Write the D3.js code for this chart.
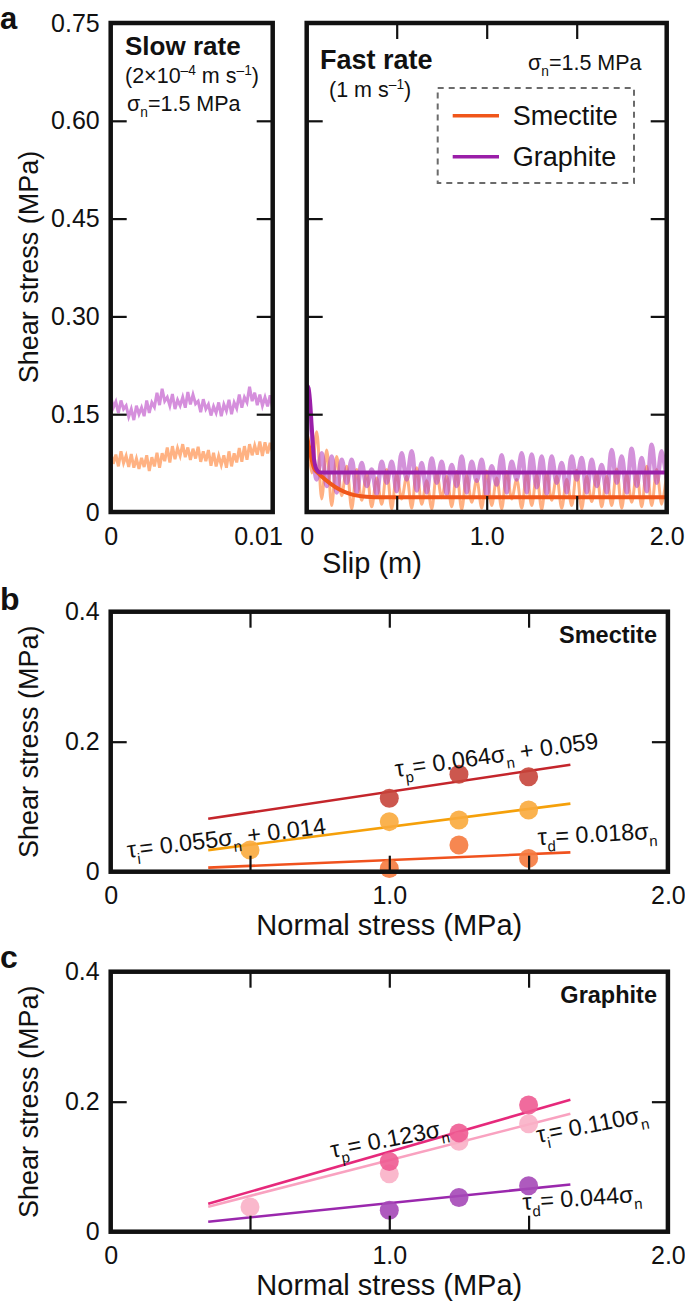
<!DOCTYPE html>
<html>
<head>
<meta charset="utf-8">
<script src="https://cdn.jsdelivr.net/npm/d3@7"></script>
<style>
body { margin: 0; background: #fff; }
svg text { font-family: "Liberation Sans", Arial, Helvetica, sans-serif; fill: #111; }
.lbl .tick text { font-size: 25px; }
</style>
</head>
<body>
<div id="fig"></div>
<script>
// ---------- data ----------
// panel a, slow rate: shear stress (MPa) sampled evenly over 0..slowSlipMax (m)
var slowSlipMax = 0.011;
var slowGraphite = [0.178,0.160,0.169,0.152, 0.171,0.158,0.163,0.146, 0.158,0.141,0.163,0.150,
  0.160,0.147,0.171,0.152, 0.168,0.161,0.183,0.164, 0.189,0.170,0.176,0.163,
  0.181,0.158,0.172,0.163, 0.176,0.160,0.184,0.165, 0.180,0.166,0.170,0.153,
  0.173,0.158,0.165,0.148, 0.162,0.152,0.168,0.147, 0.165,0.155,0.172,0.150,
  0.168,0.159,0.180,0.160, 0.176,0.168,0.192,0.170, 0.183,0.164,0.180,0.163,
  0.176,0.162,0.179,0.158];
var slowSmectite = [0.092,0.074,0.088,0.070, 0.093,0.075,0.086,0.069, 0.089,0.068,0.082,0.066,
  0.083,0.069,0.087,0.063, 0.084,0.070,0.091,0.068, 0.090,0.078,0.099,0.076,
  0.101,0.081,0.098,0.086, 0.104,0.084,0.099,0.080, 0.097,0.082,0.100,0.077,
  0.093,0.078,0.095,0.071, 0.091,0.070,0.086,0.072, 0.087,0.068,0.093,0.070,
  0.090,0.076,0.098,0.077, 0.101,0.080,0.104,0.087, 0.102,0.088,0.108,0.086,
  0.107,0.090,0.106,0.091];

// panel a, fast rate: raw records, one value every fastStep metres of slip
var fastStep = 2 / 72;
var fastGraphiteRaw = [0.19,0.12,0.05,0.09,0.04,0.085,0.03,0.08,0.045,0.08,
  0.03,0.075,0.04,0.065,0.028,0.077,0.045,0.077,0.032,0.09,
  0.05,0.093,0.033,0.075,0.03,0.082,0.045,0.077,0.028,0.072,
  0.04,0.085,0.03,0.077,0.048,0.08,0.025,0.07,0.042,0.087,
  0.03,0.077,0.05,0.09,0.03,0.088,0.038,0.085,0.028,0.085,
  0.045,0.075,0.03,0.085,0.05,0.083,0.03,0.08,0.04,0.072,
  0.03,0.095,0.045,0.085,0.03,0.097,0.04,0.083,0.032,0.103,
  0.045,0.093,0.05];
var fastSmectiteRaw = [0.13,0.06,0.123,0.02,0.095,0.01,0.085,0.025,0.07,0.005,
  0.065,0.018,0.06,0.008,0.052,0.012,0.065,0.005,0.058,0.02,
  0.055,0.006,0.068,0.012,0.048,0.005,0.06,0.022,0.055,0.008,
  0.062,0.004,0.056,0.015,0.05,0.006,0.063,0.01,0.052,0.005,
  0.062,0.02,0.05,0.006,0.06,0.01,0.057,0.004,0.06,0.018,
  0.055,0.006,0.05,0.01,0.064,0.005,0.055,0.016,0.06,0.008,
  0.055,0.01,0.066,0.006,0.058,0.015,0.06,0.008,0.07,0.01,
  0.065,0.012,0.06];
// fitted decay curves
var fastGraphiteFitSlip = [0, 0.01, 0.018, 0.029, 0.041, 0.056, 0.075, 2.0];
var fastGraphiteFit     = [0.195, 0.19, 0.172, 0.126, 0.08, 0.0645, 0.0604, 0.0604];
var fastSmectiteFitSlip = [0, 0.02, 0.04, 0.074, 0.13, 0.185, 0.24, 0.33, 0.43, 2.0];
var fastSmectiteFit     = [0.12, 0.09, 0.068, 0.057, 0.044, 0.034, 0.0277, 0.0235, 0.0226, 0.0226];

var yTicksA = [0, 0.15, 0.30, 0.45, 0.60, 0.75];
var yLabelsA = ["0", "0.15", "0.30", "0.45", "0.60", "0.75"];

// panels b and c: normal stress (MPa) vs shear stress (MPa)
var smecPeakN = [1.0, 1.25, 1.5],       smecPeak = [0.113, 0.150, 0.146];
var smecInterN = [0.5, 1.0, 1.25, 1.5], smecInter = [0.0334, 0.077, 0.0795, 0.095];
var smecDynN = [1.0, 1.25, 1.5],        smecDyn = [0.005, 0.041, 0.0205];
var grPeakN = [1.0, 1.25, 1.5],         grPeak = [0.108, 0.152, 0.195];
var grInterN = [0.5, 1.0, 1.25, 1.5],   grInter = [0.038, 0.089, 0.139, 0.166];
var grDynN = [1.0, 1.25, 1.5],          grDyn = [0.033, 0.0525, 0.0706];
// fit coefficients [slope, intercept] and the stress range they are drawn over
var smecFits = [[0.064, 0.059], [0.055, 0.014], [0.018, 0]];
var grFits = [[0.123, 0], [0.110, 0], [0.044, 0]];
var fitRange = [0.35, 1.65];

var yTicksBC = [0, 0.2, 0.4];
var yLabelsBC = ["0", "0.2", "0.4"];
var xTicksBC = [0, 1, 2];
var xLabelsBC = ["0", "1.0", "2.0"];

// ---------- drawing ----------
var svg = d3.select("#fig").append("svg")
    .attr("width", 685).attr("height", 1304);
svg.append("rect").attr("width", 685).attr("height", 1304).attr("fill", "#fff");

var ink = "#111";

function inwardTicks(g, x, y, xt, yt) {
    var x0 = x.range()[0], x1 = x.range()[1], y0 = y.range()[0], y1 = y.range()[1];
    var t = g.append("g");
    if (yt.length) {
        t.append("g").attr("transform", "translate(" + x0 + ",0)")
            .call(d3.axisLeft(y).tickValues(yt).tickSize(-16).tickFormat(""));
        t.append("g").attr("transform", "translate(" + x1 + ",0)")
            .call(d3.axisRight(y).tickValues(yt).tickSize(-16).tickFormat(""));
    }
    if (xt.length) {
        t.append("g").attr("transform", "translate(0," + y0 + ")")
            .call(d3.axisBottom(x).tickValues(xt).tickSize(-16).tickFormat(""));
        t.append("g").attr("transform", "translate(0," + y1 + ")")
            .call(d3.axisTop(x).tickValues(xt).tickSize(-16).tickFormat(""));
    }
    t.selectAll(".domain").remove();
    t.selectAll(".tick line").attr("stroke", ink).attr("stroke-width", 2.2);
}

function frame(g, x, y) {
    var x0 = x.range()[0], x1 = x.range()[1], y0 = y.range()[0], y1 = y.range()[1];
    g.append("rect").attr("x", x0).attr("y", y1)
        .attr("width", x1 - x0).attr("height", y0 - y1)
        .attr("fill", "none").attr("stroke", ink).attr("stroke-width", 4.5);
}

function leftLabels(g, x, y, vals, labels) {
    g.append("g").attr("class", "lbl")
        .attr("transform", "translate(" + x.range()[0] + ",0)")
        .call(d3.axisLeft(y).tickValues(vals).tickSize(0).tickPadding(11)
            .tickFormat(function(d, i) { return labels[i]; }))
        .select(".domain").remove();
}

function bottomLabels(g, x, y, vals, labels) {
    g.append("g").attr("class", "lbl")
        .attr("transform", "translate(0," + y.range()[0] + ")")
        .call(d3.axisBottom(x).tickValues(vals).tickSize(0).tickPadding(15)
            .tickFormat(function(d, i) { return labels[i]; }))
        .select(".domain").remove();
}

function clipTo(id, x, y) {
    svg.append("clipPath").attr("id", id).append("rect")
        .attr("x", x.range()[0]).attr("y", y.range()[1])
        .attr("width", x.range()[1] - x.range()[0])
        .attr("height", y.range()[0] - y.range()[1]);
}

// rich text: parts = [[text, "n"|"sub"|"sup"], ...]
function richText(g, px, py, parts, size, angle, weight) {
    var t = g.append("text")
        .attr("transform", "translate(" + px + "," + py + ") rotate(" + (angle || 0) + ")")
        .attr("font-size", size)
        .attr("font-weight", weight || "normal");
    var cur = 0;
    parts.forEach(function(p) {
        var shift = p[1] == "sub" ? size * 0.3 : (p[1] == "sup" ? -size * 0.38 : 0);
        t.append("tspan").attr("dy", shift - cur)
            .attr("font-size", p[1] == "n" ? size : size * 0.64)
            .text(p[0]);
        cur = shift;
    });
    return t;
}

function axisTitle(g, text, px, py, rot, size) {
    g.append("text").attr("transform", "translate(" + px + "," + py + ") rotate(" + rot + ")")
        .attr("text-anchor", "middle").attr("font-size", size).text(text);
}

// ===== panel a =====
var yA = d3.scaleLinear().domain([0, 0.75]).range([512, 23]);
var xSlow = d3.scaleLinear().domain([0, slowSlipMax]).range([110.7, 272.7]);
var xFast = d3.scaleLinear().domain([0, 2]).range([306.7, 666.7]);
var gA = svg.append("g");

clipTo("clipSlow", xSlow, yA);
clipTo("clipFast", xFast, yA);

var slowStep = slowSlipMax / (slowGraphite.length - 1);
var slowLine = d3.line()
    .x(function(d, i) { return xSlow(i * slowStep); })
    .y(function(d) { return yA(d); });
var gSlow = gA.append("g").attr("clip-path", "url(#clipSlow)");
gSlow.append("path").datum(slowSmectite).attr("d", slowLine)
    .attr("fill", "none").attr("stroke", "#ffb283").attr("stroke-width", 3);
gSlow.append("path").datum(slowGraphite).attr("d", slowLine)
    .attr("fill", "none").attr("stroke", "#d58fdc").attr("stroke-width", 3);

var rawLine = d3.line()
    .x(function(d, i) { return xFast(i * fastStep); })
    .y(function(d) { return yA(d); })
    .curve(d3.curveCatmullRom);
var fitLine = d3.line()
    .x(function(d) { return xFast(d[0]); })
    .y(function(d) { return yA(d[1]); })
    .curve(d3.curveMonotoneX);
var gFast = gA.append("g").attr("clip-path", "url(#clipFast)");
gFast.append("path").datum(fastSmectiteRaw).attr("d", rawLine)
    .attr("fill", "none").attr("stroke", "#ff9c63").attr("stroke-opacity", 0.8).attr("stroke-width", 3);
gFast.append("path").datum(fastGraphiteRaw).attr("d", rawLine)
    .attr("fill", "none").attr("stroke", "#b54ac2").attr("stroke-opacity", 0.6).attr("stroke-width", 4.5);
gFast.append("path").datum(d3.zip(fastSmectiteFitSlip, fastSmectiteFit)).attr("d", fitLine)
    .attr("fill", "none").attr("stroke", "#f0561a").attr("stroke-width", 4);
gFast.append("path").datum(d3.zip(fastGraphiteFitSlip, fastGraphiteFit)).attr("d", fitLine)
    .attr("fill", "none").attr("stroke", "#9a1ea8").attr("stroke-width", 4);

inwardTicks(gA, xSlow, yA, [], yTicksA.slice(1, 5));
inwardTicks(gA, xFast, yA, [0.5, 1, 1.5], yTicksA.slice(1, 5));
frame(gA, xSlow, yA);
frame(gA, xFast, yA);
leftLabels(gA, xSlow, yA, yTicksA, yLabelsA);
bottomLabels(gA, xSlow, yA, [0, 0.01], ["0", "0.01"]);
bottomLabels(gA, xFast, yA, [0, 1, 2], ["0", "1.0", "2.0"]);
axisTitle(gA, "Shear stress (MPa)", 38, 267, -90, 27);
gA.append("text").attr("x", 372).attr("y", 573).attr("text-anchor", "middle")
    .attr("font-size", 29).text("Slip (m)");
gA.append("text").attr("x", 0).attr("y", 28.5).attr("font-size", 31)
    .attr("font-weight", "bold").text("a");

// annotations
richText(gA, 125, 55, [["Slow rate", "n"]], 26, 0, "bold");
richText(gA, 125, 83, [["(2\u00d710", "n"], ["\u20134", "sup"], [" m s", "n"], ["\u20131", "sup"], [")", "n"]], 21.5);
richText(gA, 127, 111, [["\u03c3", "n"], ["n", "sub"], ["=1.5 MPa", "n"]], 21.5);
richText(gA, 320, 69, [["Fast rate", "n"]], 27, 0, "bold");
richText(gA, 329, 97, [["(1 m s", "n"], ["\u20131", "sup"], [")", "n"]], 21.5);
richText(gA, 528, 70, [["\u03c3", "n"], ["n", "sub"], ["=1.5 MPa", "n"]], 21.5);

// legend
var legNames = ["Smectite", "Graphite"];
var legColors = ["#f0561a", "#9a1ea8"];
var legY = [115.7, 156.7];
gA.append("rect").attr("x", 437.7).attr("y", 88).attr("width", 196.3).attr("height", 95)
    .attr("fill", "#fff").attr("stroke", "#6b6b6b").attr("stroke-width", 2)
    .attr("stroke-dasharray", "6,5");
legNames.forEach(function(n, i) {
    gA.append("line").attr("x1", 452.7).attr("x2", 499).attr("y1", legY[i]).attr("y2", legY[i])
        .attr("stroke", legColors[i]).attr("stroke-width", 3.5);
    gA.append("text").attr("x", 512.7).attr("y", legY[i] + 9.5).attr("font-size", 27).text(n);
});

// ===== panels b and c =====
function scatterPanel(y0, yTop, title, letter, letterY, fits, fitColors, sets, eqs) {
    var x = d3.scaleLinear().domain([0, 2]).range([110.7, 667.9]);
    var y = d3.scaleLinear().domain([0, 0.4]).range([y0, yTop]);
    var g = svg.append("g");
    fits.forEach(function(f, i) {
        g.append("line")
            .attr("x1", x(fitRange[0])).attr("y1", y(f[0] * fitRange[0] + f[1]))
            .attr("x2", x(fitRange[1])).attr("y2", y(f[0] * fitRange[1] + f[1]))
            .attr("stroke", fitColors[i]).attr("stroke-width", 2.6);
    });
    sets.forEach(function(s) {
        g.selectAll(null).data(d3.zip(s.n, s.v)).enter().append("circle")
            .attr("cx", function(d) { return x(d[0]); })
            .attr("cy", function(d) { return y(d[1]); })
            .attr("r", 9.5).attr("fill", s.color).attr("fill-opacity", 0.9);
    });
    inwardTicks(g, x, y, [0.5, 1, 1.5], [0.2]);
    frame(g, x, y);
    leftLabels(g, x, y, yTicksBC, yLabelsBC);
    bottomLabels(g, x, y, xTicksBC, xLabelsBC);
    axisTitle(g, "Shear stress (MPa)", 38, (y0 + yTop) / 2, -90, 27);
    g.append("text").attr("x", 389.3).attr("y", y0 + 63).attr("text-anchor", "middle")
        .attr("font-size", 29).text("Normal stress (MPa)");
    g.append("text").attr("x", 657).attr("y", yTop + 31).attr("text-anchor", "end")
        .attr("font-size", 23.5).attr("font-weight", "bold").text(title);
    g.append("text").attr("x", 0).attr("y", letterY).attr("font-size", 32)
        .attr("font-weight", "bold").text(letter);
    eqs.forEach(function(e) { richText(g, e.x, e.y, e.parts, 23.5, e.rot); });
}

scatterPanel(871.7, 611.7, "Smectite", "b", 610, smecFits, ["#c4252b", "#f5a00a", "#f0521e"], [
    { n: smecPeakN, v: smecPeak, color: "#c6453b" },
    { n: smecInterN, v: smecInter, color: "#f9aa3c" },
    { n: smecDynN, v: smecDyn, color: "#f57a3e" }
], [
    { x: 396, y: 777, rot: -8, parts: [["\u03c4", "n"], ["p", "sub"], ["= 0.064\u03c3", "n"], ["n", "sub"], [" + 0.059", "n"]] },
    { x: 128, y: 858, rot: -7, parts: [["\u03c4", "n"], ["i", "sub"], ["= 0.055\u03c3", "n"], ["n", "sub"], [" + 0.014", "n"]] },
    { x: 538, y: 845, rot: -3, parts: [["\u03c4", "n"], ["d", "sub"], ["= 0.018\u03c3", "n"], ["n", "sub"]] }
]);

scatterPanel(1231.7, 971.7, "Graphite", "c", 968, grFits, ["#e6297b", "#f9a2c0", "#9a28ad"], [
    { n: grInterN, v: grInter, color: "#fab0c6" },
    { n: grPeakN, v: grPeak, color: "#ee5b92" },
    { n: grDynN, v: grDyn, color: "#a548b7" }
], [
    { x: 332, y: 1158, rot: -11, parts: [["\u03c4", "n"], ["p", "sub"], ["= 0.123\u03c3", "n"], ["n", "sub"]] },
    { x: 538, y: 1143, rot: -11, parts: [["\u03c4", "n"], ["i", "sub"], ["= 0.110\u03c3", "n"], ["n", "sub"]] },
    { x: 523, y: 1210, rot: -4, parts: [["\u03c4", "n"], ["d", "sub"], ["= 0.044\u03c3", "n"], ["n", "sub"]] }
]);
</script>
</body>
</html>
